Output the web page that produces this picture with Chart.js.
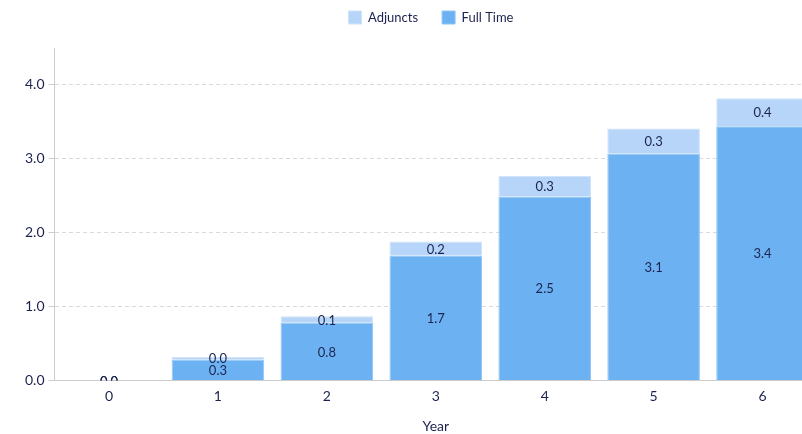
<!DOCTYPE html>
<html>
<head>
<meta charset="utf-8">
<script src="https://cdn.jsdelivr.net/npm/chart.js@4/dist/chart.umd.min.js"></script>
<style>
  html, body { margin: 0; padding: 0; background: #fff; overflow: hidden; }
  #wrap { position: relative; width: 860px; height: 434px; }
</style>
</head>
<body>
<div id="wrap"><canvas id="chart"></canvas></div>
<script>
// Faculty count by year (stacked): full-time at the base, adjuncts on top
const years = ['0', '1', '2', '3', '4', '5', '6'];
const fullTime = [0, 0.28, 0.78, 1.69, 2.49, 3.07, 3.44];
const adjuncts = [0, 0.04, 0.09, 0.19, 0.28, 0.34, 0.38];

const ink = '#1d2350';
const fontFamily = 'Lato, "Open Sans", sans-serif';

// Writes each segment's value in the middle of its bar, clipped to the plot area
const barValueLabels = {
  id: 'barValueLabels',
  afterDatasetsDraw(chart) {
    const { ctx, chartArea } = chart;
    ctx.save();
    ctx.beginPath();
    ctx.rect(chartArea.left, chartArea.top, chartArea.right - chartArea.left, chartArea.bottom - chartArea.top);
    ctx.clip();
    ctx.font = '13px ' + fontFamily;
    ctx.fillStyle = ink;
    ctx.textAlign = 'center';
    ctx.textBaseline = 'middle';
    chart.data.datasets.forEach((ds, i) => {
      const meta = chart.getDatasetMeta(i);
      if (meta.hidden) return;
      meta.data.forEach((bar, j) => {
        const v = ds.data[j];
        const yMid = (bar.y + bar.base) / 2;
        ctx.fillText(v.toFixed(1), bar.x, yMid + 1);
      });
    });
    ctx.restore();
  }
};

// Extra room under the legend, and the legend nudged to the right
const legendPlacement = {
  id: 'legendPlacement',
  afterInit(chart) {
    const legend = chart.legend;
    const fit = legend.fit;
    legend.fit = function () {
      fit.call(this);
      this.height += 14;
    };
  },
  afterUpdate(chart) {
    chart.legend.left += 12;
    chart.legend.right += 12;
  }
};

new Chart(document.getElementById('chart'), {
  type: 'bar',
  data: {
    labels: years,
    datasets: [
      {
        label: 'Full Time',
        data: fullTime,
        backgroundColor: '#6cb2f3',
        borderColor: '#8ec4f6',
        borderWidth: 1,
        borderSkipped: 'bottom'
      },
      {
        label: 'Adjuncts',
        data: adjuncts,
        backgroundColor: '#b6d5f8',
        borderColor: '#cfe3fa',
        borderWidth: 1,
        borderSkipped: 'bottom'
      }
    ]
  },
  options: {
    responsive: true,
    maintainAspectRatio: false,
    animation: false,
    layout: { padding: { left: 21, right: 43, top: -13, bottom: -1 } },
    datasets: {
      bar: { categoryPercentage: 0.85, barPercentage: 1.0 }
    },
    plugins: {
      legend: {
        position: 'top',
        reverse: true,
        labels: {
          color: ink,
          font: { family: fontFamily, size: 13 },
          boxWidth: 13,
          boxHeight: 13,
          padding: 24
        }
      },
      tooltip: { enabled: false }
    },
    scales: {
      x: {
        stacked: true,
        grid: { display: false, drawTicks: false },
        border: { color: '#cccccc', width: 1 },
        ticks: { color: ink, font: { family: fontFamily, size: 14 }, padding: 8 },
        title: {
          display: true,
          text: 'Year',
          color: ink,
          font: { family: fontFamily, size: 14 },
          padding: { top: 5, bottom: 0 }
        }
      },
      y: {
        stacked: true,
        min: 0,
        max: 4.5,
        grid: {
          color: '#d9d9d9',
          tickColor: '#cccccc',
          tickLength: 6,
          drawTicks: true
        },
        border: { color: '#cccccc', width: 1, dash: [4, 3] },
        ticks: {
          stepSize: 1,
          includeBounds: false,
          color: ink,
          font: { family: fontFamily, size: 14 },
          padding: 4,
          callback: v => Number(v).toFixed(1)
        }
      }
    }
  },
  plugins: [barValueLabels, legendPlacement]
});
</script>
</body>
</html>
